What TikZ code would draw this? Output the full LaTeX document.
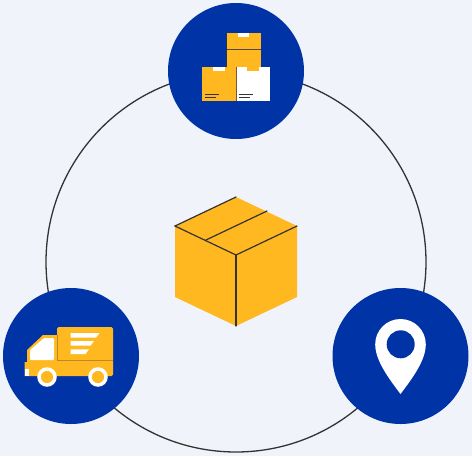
\documentclass[tikz,border=0pt]{standalone}
\definecolor{bgc}{HTML}{F0F4FA}
\definecolor{bluec}{HTML}{0033A6}
\definecolor{yel}{HTML}{FFB81F}
\definecolor{ink}{HTML}{333333}
\tikzset{
  disc/.style={circle,fill=bluec,draw=none,minimum size=136pt,inner sep=0pt},
  ring/.style={circle,draw=ink,line width=1.3pt,minimum size=380pt,inner sep=0pt},
  edge/.style={draw=ink,line width=1.2pt,line cap=round},
  fold/.style={draw=ink!85!yel,line width=1pt},
  txtline/.style={draw=ink,line width=.9pt},
  wheel/.style={circle,fill=yel,draw=white,line width=3.5pt,minimum size=16pt,inner sep=0pt},
}
\begin{document}
\begin{tikzpicture}[x=1pt,y=-1pt]
\useasboundingbox[fill=bgc] (0,0) rectangle (472,456);
\node[ring] (R) at (236,262) {};
\node[disc] (T) at (236,71) {};
\node[disc] (L) at (71,356) {};
\node[disc] (P) at (400.5,356) {};
% central box
\fill[yel] (236,197) -- (297,226) -- (297,297) -- (236,326) -- (175,297) -- (175,226) -- cycle;
\draw[edge] (236,197) -- (175,226) -- (236,255) -- (297,226);
\draw[edge] (206,240) -- (267,211);
\draw[edge] (236,255) -- (236,326);
% stacked boxes
\fill[yel] (226,33) rectangle (261,67);
\draw[fold] (226,49.7) -- (261,49.7);
\fill[white] (238,33) rectangle (249,37);
\draw[draw=ink!70!bluec,line width=.5pt] (226,33) -- (226,67);
\fill[yel] (201.5,67) rectangle (236,101);
\fill[white] (213,67) rectangle (225,71);
\fill[white] (236.5,67) rectangle (270,101);
\fill[yel] (247,67) rectangle (259,71);
\draw[draw=ink!70!yel,line width=.7pt] (236,67) -- (236,101);
\draw[txtline] (205,94) -- (219,94);
\draw[txtline] (205,97.5) -- (216,97.5);
\draw[txtline] (239,94) -- (253,94);
\draw[txtline] (239,97.5) -- (250,97.5);
% truck
\fill[yel,rounded corners=1.5pt] (57,327) -- (113,327) -- (113,376) -- (57,376) -- cycle;
\fill[yel] (57,335) -- (43,335) -- (27,350) -- (27,362) -- (24.5,362) -- (24.5,376) -- (60,376) -- (60,335) -- cycle;
\fill[white,rounded corners=1pt] (30,360) -- (30,350) -- (44,338) -- (54,338) -- (54,360) -- cycle;
\fill[white] (24.5,369) rectangle (29,375.7);
\draw[draw=ink!35!yel,line width=.5pt] (57,335) -- (57,360) -- (113,360);
\fill[white] (70.7,333) -- (99.5,333) -- (96,337.7) -- (70.7,337.7) -- cycle;
\fill[white] (70.7,341) -- (94,341) -- (90.5,345.7) -- (70.7,345.7) -- cycle;
\fill[white] (70.7,349.3) -- (89,349.3) -- (85.5,354) -- (70.7,354) -- cycle;
\node[wheel] (W1) at (47,377) {};
\node[wheel] (W2) at (98,377) {};
% pin
\fill[white] (375.2,344.3) arc[start angle=180,end angle=360,radius=25.3]
  .. controls (425.8,361) and (411,380) .. (400.5,394)
  .. controls (390,380) and (375.2,361) .. (375.2,344.3) -- cycle;
\node[circle,fill=bluec,minimum size=28pt,inner sep=0pt] (H) at (400.7,344.3) {};
\end{tikzpicture}
\end{document}
